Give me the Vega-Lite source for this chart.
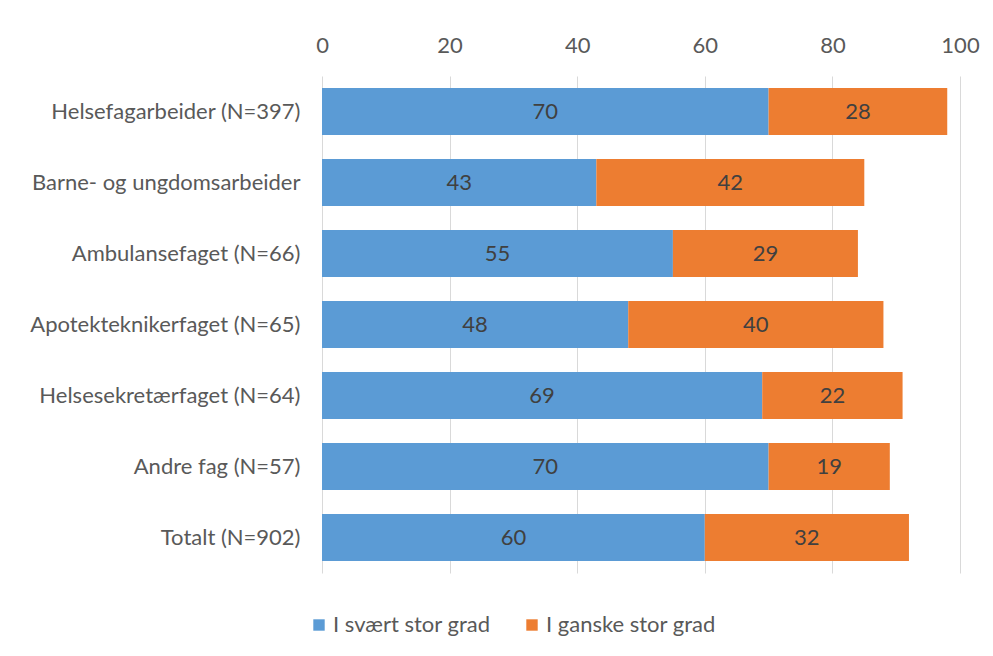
{
  "$schema": "https://vega.github.io/schema/vega-lite/v6.json",
  "width": 638,
  "height": 497,
  "autosize": {"type": "none"},
  "padding": {"left": 322, "top": 76, "right": 33, "bottom": 83},
  "background": "white",
  "config": {
    "font": "Lato",
    "view": {"stroke": null}
  },
  "data": {
    "values": [
      {"cat": "Helsefagarbeider (N=397)", "serie": "I svært stor grad", "ord": 1, "value": 70},
      {"cat": "Helsefagarbeider (N=397)", "serie": "I ganske stor grad", "ord": 2, "value": 28},
      {"cat": "Barne- og ungdomsarbeider", "serie": "I svært stor grad", "ord": 1, "value": 43},
      {"cat": "Barne- og ungdomsarbeider", "serie": "I ganske stor grad", "ord": 2, "value": 42},
      {"cat": "Ambulansefaget (N=66)", "serie": "I svært stor grad", "ord": 1, "value": 55},
      {"cat": "Ambulansefaget (N=66)", "serie": "I ganske stor grad", "ord": 2, "value": 29},
      {"cat": "Apotekteknikerfaget (N=65)", "serie": "I svært stor grad", "ord": 1, "value": 48},
      {"cat": "Apotekteknikerfaget (N=65)", "serie": "I ganske stor grad", "ord": 2, "value": 40},
      {"cat": "Helsesekretærfaget (N=64)", "serie": "I svært stor grad", "ord": 1, "value": 69},
      {"cat": "Helsesekretærfaget (N=64)", "serie": "I ganske stor grad", "ord": 2, "value": 22},
      {"cat": "Andre fag (N=57)", "serie": "I svært stor grad", "ord": 1, "value": 70},
      {"cat": "Andre fag (N=57)", "serie": "I ganske stor grad", "ord": 2, "value": 19},
      {"cat": "Totalt (N=902)", "serie": "I svært stor grad", "ord": 1, "value": 60},
      {"cat": "Totalt (N=902)", "serie": "I ganske stor grad", "ord": 2, "value": 32}
    ]
  },
  "transform": [
    {"stack": "value", "groupby": ["cat"], "sort": [{"field": "ord", "order": "ascending"}], "as": ["v0", "v1"]},
    {"calculate": "(datum.v0 + datum.v1) / 2", "as": "vmid"}
  ],
  "encoding": {
    "y": {
      "field": "cat",
      "type": "nominal",
      "sort": ["Helsefagarbeider (N=397)", "Barne- og ungdomsarbeider", "Ambulansefaget (N=66)", "Apotekteknikerfaget (N=65)", "Helsesekretærfaget (N=64)", "Andre fag (N=57)", "Totalt (N=902)"],
      "scale": {"paddingInner": 0.34, "paddingOuter": 0.17},
      "axis": {
        "title": null,
        "ticks": false,
        "domain": false,
        "labelPadding": 22,
        "labelFontSize": 22,
        "labelColor": "#595959",
        "labelLimit": 400
      }
    }
  },
  "layer": [
    {
      "mark": {"type": "bar"},
      "encoding": {
        "x": {
          "field": "v0",
          "type": "quantitative",
          "scale": {"domain": [0, 100]},
          "axis": {
            "orient": "top",
            "title": null,
            "values": [0, 20, 40, 60, 80, 100],
            "grid": true,
            "gridColor": "#d9d9d9",
            "gridWidth": 1,
            "domain": false,
            "ticks": false,
            "labelFlush": false,
            "labelPadding": 19,
            "labelFontSize": 22,
            "labelColor": "#595959"
          }
        },
        "x2": {"field": "v1"},
        "color": {
          "field": "serie",
          "type": "nominal",
          "sort": ["I svært stor grad", "I ganske stor grad"],
          "scale": {"domain": ["I svært stor grad", "I ganske stor grad"], "range": ["#5b9bd5", "#ed7d31"]},
          "legend": {
            "title": null,
            "orient": "none",
            "direction": "horizontal",
            "legendX": -14,
            "legendY": 538,
            "symbolType": "square",
            "symbolSize": 130,
            "symbolStrokeWidth": 0,
            "labelFontSize": 22,
            "labelColor": "#595959",
            "labelOffset": 3,
            "labelLimit": 400,
            "columnPadding": 30
          }
        }
      }
    },
    {
      "mark": {"type": "text", "fontSize": 22, "color": "#404040", "baseline": "middle", "align": "center"},
      "encoding": {
        "x": {"field": "vmid", "type": "quantitative"},
        "text": {"field": "value", "type": "quantitative"}
      }
    }
  ]
}
